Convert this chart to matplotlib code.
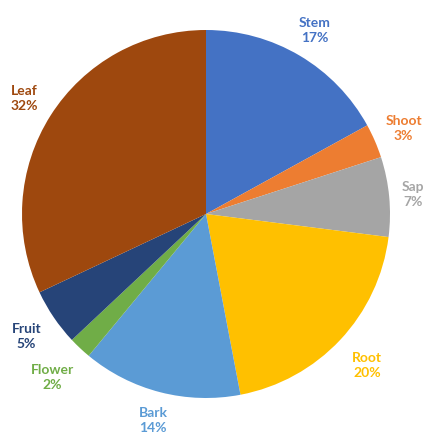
import numpy as np
import matplotlib.pyplot as plt

parts = ["Stem", "Shoot", "Sap", "Root", "Bark", "Flower", "Fruit", "Leaf"]
shares = [17, 3, 7, 20, 14, 2, 5, 32]
colors = ["#4472C4", "#ED7D31", "#A5A5A5", "#FFC000", "#5B9BD5", "#70AD47", "#264478", "#9E480E"]
# how far out each label sits (in pie radii)
label_dist = [1.16, 1.17, 1.13, 1.2, 1.16, 1.22, 1.18, 1.17]

fig = plt.figure(figsize=(4.27, 4.34), dpi=100)
ax = fig.add_axes([0, 0, 1, 1])

cx, cy, r = 206, 220, 184
labels = [p + "\n" + str(s) + "%" for p, s in zip(parts, shares)]
wedges, texts = ax.pie(shares, labels=labels, colors=colors, startangle=90, counterclock=False,
                       center=(cx, cy), radius=r, labeldistance=1.0, frame=True,
                       wedgeprops={"linewidth": 0})
ax.axis("off")
ax.set_xlim(0, 427)
ax.set_ylim(0, 434)
ax.set_aspect("equal")

for t, w, c, d in zip(texts, wedges, colors, label_dist):
    ang = np.deg2rad((w.theta1 + w.theta2) / 2)
    t.set_position((cx + d * r * np.cos(ang), cy + d * r * np.sin(ang)))
    t.set_color(c)
    t.set_fontweight("bold")
    t.set_fontsize(10)
    t.set_family("Lato")
    t.set_ha("center")
    t.set_va("center")
    t.set_linespacing(1.3)

plt.savefig("out.png")
